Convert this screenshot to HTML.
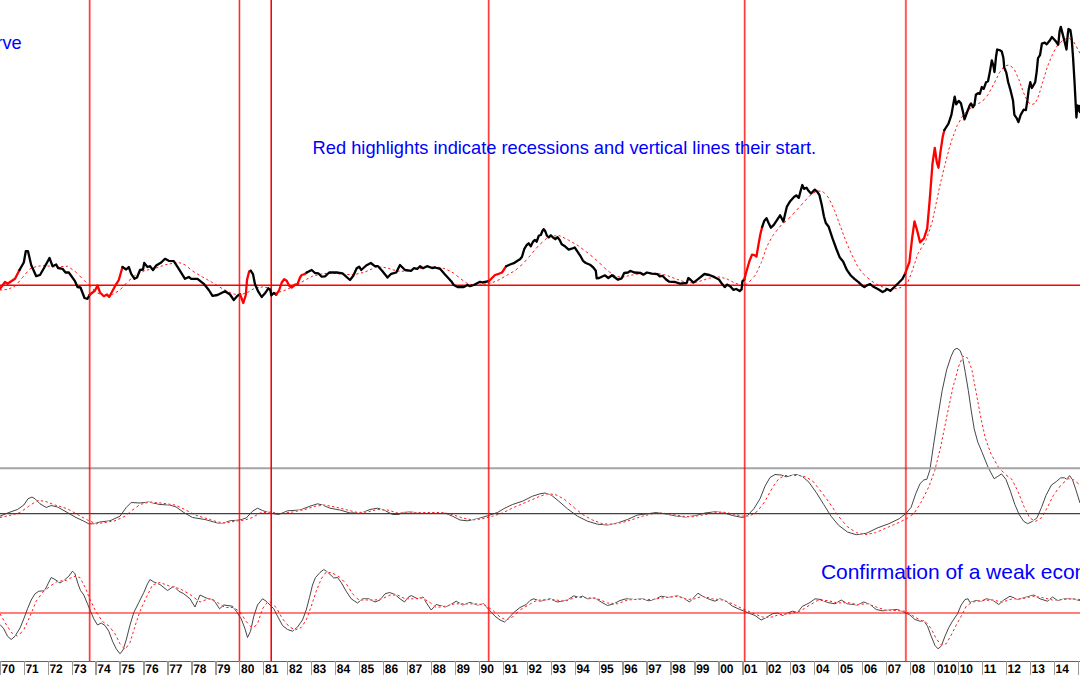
<!DOCTYPE html>
<html><head><meta charset="utf-8"><title>chart</title>
<style>
html,body{margin:0;padding:0;background:#fff;}
body{width:1080px;height:675px;overflow:hidden;position:relative;font-family:"Liberation Sans",sans-serif;}
svg{position:absolute;left:0;top:0;}
.t{position:absolute;color:#0000ff;white-space:nowrap;line-height:1;}
.yl{text-rendering:geometricPrecision;position:absolute;top:662.5px;font-size:12px;font-weight:bold;color:#000;line-height:1;white-space:nowrap;transform:scaleY(1.04);transform-origin:0 0;}
</style></head><body>
<svg width="1080" height="675" viewBox="0 0 1080 675">
<polyline points="0.0,516.2 7.5,513.0 17.5,509.5 23.8,505.0 28.0,498.8 32.0,497.0 35.0,498.8 40.0,503.8 46.2,507.5 51.2,505.5 57.5,507.0 65.0,511.2 75.0,517.0 83.8,521.2 88.8,523.8 93.8,523.8 100.0,522.0 110.0,520.8 120.0,516.2 126.2,507.5 131.2,502.5 140.0,503.0 148.8,502.0 160.0,504.5 170.0,505.0 176.2,507.0 183.8,512.5 192.5,517.5 205.0,519.5 217.5,523.0 223.8,523.0 230.0,520.8 240.0,520.0 246.2,518.0 252.5,511.2 257.5,508.2 262.5,510.5 270.0,513.0 278.8,514.5 287.5,510.8 300.0,510.0 310.0,506.2 317.5,503.8 322.5,505.0 330.0,508.2 340.0,510.0 350.0,513.0 362.5,512.5 370.0,509.5 377.5,508.2 385.0,510.5 392.5,514.5 398.8,514.5 402.5,512.5 410.0,512.0 420.0,513.0 432.5,512.5 445.0,513.0 452.5,516.2 460.0,520.0 467.5,520.8 477.5,518.8 487.5,515.8 497.5,512.5 505.0,508.0 512.5,504.5 522.5,501.2 532.5,496.2 540.0,493.8 545.0,493.0 551.2,495.0 558.8,501.2 567.5,508.8 577.5,516.2 587.5,521.2 597.5,524.2 607.5,525.0 617.5,523.0 627.5,519.5 637.5,515.0 647.5,513.8 656.2,512.5 665.0,513.8 675.0,515.8 685.0,517.0 695.0,515.8 705.0,513.0 715.0,511.8 722.5,512.5 732.5,515.5 742.5,517.5 747.5,515.5 753.8,508.8 760.0,498.8 765.0,486.2 770.0,477.5 775.0,474.5 781.2,475.0 786.2,476.8 791.2,475.5 796.2,474.5 802.5,476.5 808.9,482.2 816.3,492.6 823.7,504.4 831.1,516.3 838.5,525.2 847.4,532.0 856.3,534.7 866.7,533.2 877.0,528.1 888.9,523.7 899.3,518.7 906.1,513.3 911.1,507.4 915.6,494.1 920.0,483.7 923.9,479.9 926.8,479.3 929.8,470.4 933.3,446.7 937.8,417.0 942.2,390.4 946.7,369.6 951.1,356.3 954.1,349.8 957.0,348.3 960.0,350.4 962.4,356.3 965.3,372.6 968.3,390.4 971.3,411.1 974.2,428.9 977.8,442.2 982.2,452.6 988.1,467.4 994.1,478.7 997.9,476.3 1001.5,473.9 1005.9,479.3 1010.4,491.1 1014.8,504.4 1019.3,514.8 1023.7,521.3 1027.6,523.7 1032.6,521.3 1037.0,517.8 1041.5,507.4 1045.9,495.6 1051.3,485.2 1056.3,481.6 1060.7,477.8 1064.6,477.8 1066.7,479.3 1069.6,475.6 1072.6,480.0 1075.6,488.9 1080.0,503.0" fill="none" stroke="#3c3c3c" stroke-width="0.95" stroke-linejoin="round"/>
<polyline points="0.0,624.5 3.8,628.8 7.5,636.2 11.2,639.5 15.0,636.2 20.0,628.0 23.8,618.8 27.5,608.8 31.2,600.0 35.0,593.8 38.8,591.2 44.5,590.8 48.0,583.8 51.2,577.5 55.0,579.5 60.0,583.0 64.5,580.0 68.8,576.2 72.5,571.2 75.0,573.8 78.0,583.8 80.5,590.5 83.8,595.0 87.5,603.8 90.5,611.2 93.8,618.8 97.5,625.0 101.2,623.0 105.0,625.5 108.8,631.2 112.5,641.2 116.2,648.8 120.0,653.8 123.0,650.0 126.2,640.0 130.0,625.0 133.8,612.5 138.8,602.5 143.8,592.5 147.5,583.8 150.0,579.5 153.8,582.0 160.0,584.5 167.5,590.5 173.8,586.2 178.8,591.2 183.8,593.8 190.0,598.8 195.0,607.0 200.0,595.0 206.2,598.0 213.8,600.0 219.5,608.8 223.8,605.0 232.5,606.2 236.2,611.2 241.2,618.8 245.0,628.8 247.5,637.5 250.5,631.2 253.8,616.2 257.5,605.0 262.5,598.8 266.2,601.2 270.0,605.0 273.8,608.8 277.5,616.2 282.5,625.5 287.5,629.5 292.5,631.2 297.5,627.0 302.5,620.0 306.2,610.0 309.5,597.5 312.5,585.0 315.5,577.5 320.0,572.5 323.8,569.5 327.5,572.0 333.8,578.0 337.5,577.5 341.2,582.5 346.2,591.2 351.2,598.8 357.5,603.0 362.5,598.8 368.8,598.8 375.0,602.0 380.0,600.0 385.0,593.8 389.5,592.5 395.0,594.5 400.0,598.8 404.5,602.0 408.0,597.5 411.2,595.5 417.5,598.8 423.0,597.0 426.2,602.5 431.2,610.0 436.2,604.5 445.0,607.0 450.0,605.0 456.2,601.2 462.5,605.0 470.0,602.5 477.5,605.0 483.8,603.8 488.8,609.5 495.0,616.2 500.0,620.0 504.5,622.0 508.8,618.0 513.8,612.5 520.0,607.5 526.2,604.5 530.0,600.5 533.8,598.8 540.0,601.2 550.0,598.8 557.5,602.0 567.5,600.0 573.8,595.8 578.8,597.5 582.5,596.2 587.5,598.8 595.0,598.0 601.2,602.0 607.5,605.5 613.8,603.8 620.0,600.5 626.2,598.8 635.0,599.5 642.5,598.8 648.8,600.8 656.2,598.8 661.2,596.2 667.5,597.5 677.5,595.8 683.8,598.2 689.5,602.0 693.8,597.5 698.0,593.2 702.5,596.2 710.0,599.5 715.0,601.2 720.0,598.8 726.2,601.2 732.5,606.2 740.0,609.5 747.5,612.5 755.0,615.5 761.2,620.0 766.2,617.5 772.5,613.8 777.5,613.0 782.5,615.5 787.5,613.0 792.5,611.2 797.5,612.5 802.5,606.2 806.2,604.5 810.0,602.5 815.0,598.8 821.2,599.5 827.5,602.5 835.0,603.8 841.2,600.0 847.5,603.8 857.5,605.0 863.8,602.0 870.0,604.5 876.2,609.5 882.5,610.8 890.0,610.0 897.5,609.5 903.8,612.0 910.0,615.0 915.0,619.5 920.0,621.2 923.8,620.8 927.5,626.2 931.2,636.2 935.0,645.5 938.0,648.8 941.2,646.2 945.0,636.2 948.8,627.5 952.5,621.2 957.5,613.8 961.2,605.0 965.0,599.5 968.0,598.8 970.0,602.5 976.2,600.5 981.2,601.2 986.2,598.8 992.5,600.0 998.8,604.5 1003.8,600.0 1010.0,596.2 1017.5,599.5 1025.0,597.5 1033.8,595.0 1040.0,598.8 1047.5,601.2 1052.5,597.0 1057.5,600.5 1065.0,598.8 1072.5,598.8 1080.0,600.5" fill="none" stroke="#3c3c3c" stroke-width="0.95" stroke-linejoin="round"/>
<polyline points="0.0,517.5 10.0,515.5 20.0,512.5 28.8,506.2 37.5,500.5 45.0,501.2 55.0,505.0 67.5,508.8 77.5,514.5 87.5,520.0 96.2,523.8 105.0,522.5 115.0,520.8 125.0,516.2 132.5,510.0 140.0,504.5 150.0,502.0 162.5,503.2 175.0,505.0 185.0,509.5 195.0,515.0 207.5,518.8 217.5,522.0 225.0,523.0 235.0,521.2 245.0,520.0 252.5,517.5 260.0,513.0 270.0,512.0 280.0,513.8 292.5,512.0 305.0,509.5 315.0,506.2 325.0,505.0 335.0,507.0 347.5,510.0 357.5,512.5 367.5,512.0 377.5,509.5 387.5,510.0 397.5,513.0 410.0,513.0 425.0,512.5 442.5,512.5 452.5,514.5 462.5,518.0 472.5,520.0 482.5,518.8 492.5,516.2 502.5,513.0 512.5,508.0 522.5,503.8 532.5,499.5 540.0,496.2 547.5,493.8 555.0,494.5 563.8,498.8 572.5,506.2 582.5,514.5 592.5,520.0 602.5,523.8 612.5,524.2 622.5,522.5 632.5,519.5 642.5,516.2 652.5,513.8 662.5,513.0 672.5,514.5 682.5,516.2 692.5,516.8 702.5,515.0 712.5,513.0 722.5,512.0 732.5,513.8 742.5,516.2 750.0,515.8 757.5,511.2 765.0,501.2 772.5,487.5 778.8,478.8 785.0,475.5 792.5,475.5 800.0,475.5 805.9,476.9 813.3,481.6 820.7,491.1 829.6,503.0 838.5,516.3 847.4,526.7 856.3,532.6 865.2,534.7 875.6,532.6 885.9,528.1 896.3,523.7 906.7,518.7 914.1,513.3 921.5,501.5 928.9,486.7 934.8,470.4 940.7,446.7 946.7,417.0 952.6,388.9 958.5,366.7 963.0,356.3 967.4,357.8 971.9,369.6 976.3,393.3 980.7,417.0 985.2,437.8 991.1,454.1 998.5,467.4 1005.9,474.8 1011.9,479.3 1017.8,491.1 1023.7,505.9 1029.6,517.8 1035.6,521.3 1041.5,517.8 1047.4,507.4 1053.3,495.6 1060.7,485.2 1068.1,478.7 1074.1,479.9 1080.0,485.2" fill="none" stroke="#ffffff" stroke-width="1.0" stroke-linejoin="round"/>
<polyline points="0.0,613.8 5.0,622.5 11.2,632.5 17.5,636.2 23.8,630.0 30.0,616.2 36.2,601.2 42.5,592.5 50.0,586.2 57.5,581.2 66.2,580.5 73.8,576.2 80.0,577.5 85.0,587.0 90.0,599.5 96.2,612.0 102.5,621.5 108.8,625.8 115.0,633.8 120.0,643.8 125.0,649.5 130.0,642.5 135.0,626.2 140.0,611.2 146.2,597.5 152.5,585.0 160.0,582.5 170.0,586.2 180.0,588.8 190.0,594.5 200.0,602.0 208.8,598.8 217.5,602.5 225.0,607.5 233.8,607.5 240.0,612.0 246.2,621.5 252.5,628.5 257.5,623.8 262.5,608.8 267.5,602.0 270.0,602.0 276.2,607.5 282.5,618.8 288.8,626.2 295.0,630.0 301.2,627.5 306.2,620.0 311.2,606.2 316.2,591.2 321.2,578.8 326.2,572.0 332.5,573.0 340.0,577.5 346.2,583.8 352.5,593.8 358.8,600.0 366.2,600.0 375.0,600.0 382.5,598.8 390.0,595.0 397.5,595.0 405.0,598.8 413.8,598.8 422.5,598.0 430.0,602.5 436.2,607.5 445.0,606.2 455.0,603.8 465.0,603.8 475.0,603.8 485.0,605.0 492.5,610.0 500.0,617.0 506.2,620.0 512.5,617.0 520.0,610.0 527.5,605.5 535.0,601.2 540.0,600.0 552.5,599.5 565.0,601.2 575.0,597.5 585.0,597.5 597.5,598.8 607.5,603.0 617.5,603.8 627.5,600.0 640.0,599.2 652.5,599.5 665.0,597.5 677.5,596.2 687.5,599.5 695.0,598.8 702.5,596.2 712.5,598.8 722.5,600.0 732.5,603.8 742.5,608.8 752.5,613.0 762.5,617.0 770.0,617.5 780.0,614.5 790.0,613.8 800.0,611.2 810.0,605.0 817.5,600.5 827.5,600.5 837.5,603.0 847.5,602.5 857.5,604.5 867.5,603.8 876.2,607.0 885.0,610.0 895.0,610.5 905.0,611.2 912.5,615.5 920.0,620.0 926.2,622.5 931.2,628.8 936.2,638.8 941.2,645.0 946.2,643.8 951.2,635.0 956.2,625.0 961.2,616.2 966.2,606.2 972.5,602.0 982.5,600.5 992.5,600.0 1002.5,602.0 1012.5,598.8 1022.5,598.8 1032.5,596.2 1042.5,597.5 1052.5,600.0 1062.5,599.5 1072.5,598.8 1080.0,599.5" fill="none" stroke="#ffffff" stroke-width="1.0" stroke-linejoin="round"/>
<path d="M0.0,290.0 L2.2,289.9 M4.5,289.7 L6.8,289.5 M9.1,288.8 L11.3,287.8 M13.6,286.8 L15.0,286.2 L15.8,285.4 M17.7,283.1 L19.7,280.8 M21.6,278.5 L22.5,277.5 L23.6,276.2 M25.5,273.9 L27.5,271.7 M29.4,269.4 L30.0,268.8 L31.6,268.2 M33.9,267.4 L36.1,266.7 M38.4,266.2 L40.7,265.9 M43.0,265.7 L45.0,265.5 L45.2,265.5 M47.5,265.9 L49.8,266.2 M52.1,266.6 L54.3,266.9 M56.6,266.9 L58.9,266.8 M61.2,266.6 L63.4,266.5 M65.8,266.4 L67.5,266.2 L68.0,266.6 M70.3,268.1 L72.5,269.6 M74.8,271.1 L75.0,271.2 L77.1,273.4 M79.4,275.6 L81.6,277.9 M84.0,280.2 L86.2,282.4 M88.5,284.8 L90.0,286.2 L90.8,286.9 M93.0,289.0 L95.3,291.0 M97.6,293.0 L99.8,294.0 M102.1,295.0 L104.4,296.0 M106.7,295.9 L108.9,295.3 M111.2,294.8 L112.5,294.5 L113.5,293.9 M115.8,292.5 L118.0,291.2 M120.3,289.6 L122.4,287.4 M124.5,285.1 L126.6,282.9 M128.8,280.7 L131.1,278.8 M133.4,276.9 L135.0,275.5 L135.6,275.2 M137.9,274.0 L140.2,272.9 M142.5,271.8 L144.7,270.6 M147.0,270.1 L149.3,269.6 M151.6,269.2 L153.8,268.7 M156.1,268.1 L158.4,267.2 M160.7,266.4 L162.9,265.6 M165.2,264.8 L167.5,264.4 M169.8,263.9 L172.0,263.5 M174.3,263.1 L175.0,263.0 L176.6,262.9 M178.9,262.8 L180.0,262.8 L181.1,263.3 M183.4,264.2 L185.0,264.8 L185.7,265.4 M188.0,267.3 L190.2,269.1 M192.5,271.0 L194.8,272.4 M197.1,273.8 L199.3,275.1 M201.6,276.5 L202.5,277.0 L203.9,277.8 M206.2,279.0 L208.4,280.3 M210.7,281.5 L212.5,282.5 L213.0,282.8 M215.3,284.2 L217.5,285.7 M219.8,287.1 L222.1,288.5 M224.4,289.7 L226.6,290.8 M228.9,292.0 L231.2,293.1 M233.5,293.9 L235.7,294.3 M238.0,294.7 L240.0,295.0 L240.3,294.9 M242.6,294.1 L244.8,293.4 M247.1,292.6 L247.5,292.5 L249.4,291.4 M251.7,290.0 L253.9,288.6 M256.2,287.8 L258.5,287.5 M260.8,287.2 L262.5,287.0 L263.0,287.1 M265.3,287.4 L267.6,287.7 M269.9,288.0 L270.0,288.0 L272.1,290.1 M274.4,292.4 L275.0,293.0 L276.7,292.6 M279.0,292.1 L281.2,291.5 M283.5,290.8 L285.8,289.8 M288.1,288.8 L290.0,288.0 L290.3,287.9 M292.6,286.9 L294.9,286.0 M297.2,285.1 L297.5,285.0 L299.4,283.7 M301.7,282.2 L304.0,280.7 M306.3,279.4 L308.5,278.2 M310.8,277.1 L312.5,276.2 L313.1,276.1 M315.4,275.5 L317.6,275.0 M319.9,274.4 L322.2,273.8 M324.5,273.6 L326.7,273.4 M329.0,273.3 L331.3,273.1 M333.6,273.1 L335.8,273.4 M338.1,273.7 L340.4,273.9 M342.7,274.2 L344.9,274.5 M347.2,274.5 L349.5,274.5 M351.8,274.5 L354.0,274.5 M356.3,274.2 L358.6,273.6 M360.9,273.0 L363.1,272.5 M365.4,271.8 L367.7,270.8 M370.0,269.8 L372.2,268.7 M374.5,267.7 L375.0,267.5 L376.8,267.4 M379.1,267.2 L381.3,267.1 M383.6,267.3 L385.9,267.8 M388.2,268.3 L390.0,268.8 L390.4,268.9 M392.7,269.7 L395.0,270.4 M397.3,271.2 L397.5,271.2 L399.5,271.2 M401.8,271.2 L404.1,271.2 M406.4,271.0 L408.6,270.6 M410.9,270.2 L413.2,269.8 M415.5,269.4 L417.7,268.9 M420.0,268.5 L422.3,268.0 M424.6,267.6 L425.0,267.5 L426.8,267.4 M429.1,267.3 L431.4,267.2 M433.7,267.2 L435.9,267.1 M438.2,267.2 L440.5,267.7 M442.8,268.2 L445.0,268.8 L445.0,268.8 M447.3,269.9 L449.6,271.0 M451.9,272.2 L453.5,273.0 L454.1,273.5 M456.4,275.4 L458.7,277.2 M461.0,279.0 L461.0,279.0 L463.2,280.6 M465.5,282.2 L467.8,283.9 M470.1,284.3 L472.3,284.5 M474.6,284.8 L476.9,285.1 M479.2,285.0 L481.4,284.7 M483.7,284.4 L485.0,284.2 L486.0,284.0 M488.3,283.5 L490.5,283.0 M492.8,282.4 L495.1,281.5 M497.4,280.4 L499.6,279.5 M501.9,278.2 L504.2,276.8 M506.5,275.5 L507.5,274.9 L508.7,274.2 M511.0,272.9 L513.3,271.6 M515.6,270.1 L517.8,268.2 M520.1,266.2 L522.4,264.3 M524.5,262.0 L526.5,259.8 M528.5,257.4 L530.0,255.8 L530.5,255.2 M532.4,252.9 L534.3,250.7 M536.2,248.4 L538.1,246.1 M540.3,244.0 L542.5,242.0 M544.8,240.0 L546.7,238.3 L547.1,238.1 M549.4,237.3 L551.6,236.4 M553.9,235.8 L556.2,235.8 M558.5,235.8 L560.0,235.8 L560.7,236.2 M563.0,237.3 L565.3,238.5 M567.6,239.6 L568.3,240.0 L569.8,240.9 M572.1,242.2 L574.4,243.5 M576.7,244.9 L578.3,245.8 L578.9,246.3 M581.2,248.0 L583.5,249.7 M585.8,251.4 L588.0,253.1 M590.3,255.0 L592.6,256.9 M594.9,258.8 L597.1,260.7 M599.4,262.8 L601.7,265.1 M604.0,267.3 L606.2,269.6 M608.5,271.3 L610.8,272.9 M613.1,274.5 L615.0,275.8 L615.3,275.9 M617.6,276.5 L619.9,277.0 M622.2,277.4 L624.4,276.8 M626.7,276.2 L628.3,275.8 L629.0,275.7 M631.3,275.2 L633.5,274.8 M635.8,274.4 L636.7,274.2 L638.1,274.1 M640.4,273.9 L642.6,273.7 M644.9,273.5 L646.7,273.3 L647.2,273.3 M649.5,273.3 L651.7,273.3 M654.0,273.3 L656.3,273.3 M658.6,273.7 L660.8,274.1 M663.1,274.6 L665.4,275.0 M667.7,275.7 L669.9,276.6 M672.2,277.5 L674.5,278.3 M676.8,279.2 L679.0,280.0 M681.3,280.8 L683.6,281.5 M685.9,282.1 L688.1,282.4 M690.4,282.7 L692.7,282.9 M695.0,282.5 L697.2,281.9 M699.5,281.3 L699.6,281.3 L701.8,280.6 M704.1,279.9 L706.3,279.1 M708.6,278.4 L709.3,278.2 L710.9,278.0 M713.2,277.7 L715.4,277.4 M717.7,277.1 L718.9,276.9 L720.0,277.2 M722.3,277.7 L724.5,278.3 M726.8,278.9 L729.1,280.1 M731.4,281.2 L733.6,282.4 M735.9,283.3 L738.2,284.2 M740.5,285.0 L742.0,285.6 L742.7,285.3 M745.0,284.5 L747.3,283.8 M749.4,281.8 L751.4,279.6 M753.5,277.2 L755.5,275.0 M756.6,272.7 L757.6,270.5 M758.7,268.2 L759.7,265.9 M760.8,263.6 L761.3,262.5 L761.7,261.4 M762.5,259.1 L763.3,256.8 M764.1,254.5 L764.9,252.2 M765.7,250.0 L766.4,247.7 M767.4,245.4 L768.6,243.2 M769.9,240.9 L771.1,238.6 M772.4,236.3 L772.8,235.5 L774.0,234.1 M775.8,231.8 L777.6,229.5 M779.5,227.2 L780.5,225.9 L781.4,225.0 M783.7,223.0 L786.0,221.0 M788.3,218.9 L790.2,217.2 L790.5,216.9 M792.6,214.6 L794.6,212.3 M796.7,210.0 L798.8,207.8 M800.8,205.5 L802.9,203.2 M805.0,200.9 L807.0,198.7 M809.1,196.4 L809.4,196.0 L811.3,194.7 M813.6,193.2 L815.8,191.6 M818.1,190.9 L820.4,191.3 M822.7,191.6 L822.9,191.6 L824.8,193.6 M826.9,195.9 L828.7,197.9 L828.8,198.2 M829.9,200.5 L831.0,202.7 M832.0,205.0 L833.1,207.3 M834.1,209.6 L834.5,210.4 L835.0,211.8 M835.9,214.1 L836.7,216.4 M837.6,218.7 L838.4,220.9 M839.2,223.2 L840.1,225.5 M840.9,227.8 L841.8,230.0 M842.6,232.3 L843.5,234.6 M844.3,236.9 L845.2,239.1 M846.1,241.4 L847.0,243.7 M848.0,246.0 L849.0,248.2 M850.0,250.5 L851.0,252.8 M852.0,255.1 L853.1,257.3 M854.3,259.6 L855.4,261.9 M856.5,264.2 L857.6,266.3 L857.7,266.4 M859.4,268.7 L861.1,271.0 M862.9,273.3 L863.4,274.0 L864.9,275.4 M867.2,277.4 L869.5,279.4 M871.8,281.2 L874.0,282.6 M876.3,284.0 L878.6,285.4 M880.9,286.3 L883.1,287.2 M885.4,288.1 L887.7,288.9 M890.0,289.6 L892.2,289.2 M894.5,288.8 L896.8,288.3 M899.1,287.9 L901.0,287.5 L901.3,287.2 M903.6,285.3 L905.9,283.5 M908.1,281.6 L908.9,279.4 M909.8,277.1 L910.7,274.8 M911.6,272.5 L912.3,270.6 L912.4,270.2 M913.2,268.0 L913.9,265.7 M914.7,263.4 L915.4,261.2 M916.2,258.9 L916.9,256.6 M917.7,254.3 L917.9,253.7 L918.9,252.1 M920.3,249.8 L921.6,247.5 M923.0,245.2 L924.3,243.0 M925.7,240.6 L926.3,239.6 L926.7,238.4 M927.5,236.1 L928.2,233.9 M929.0,231.6 L929.8,229.3 M930.5,227.0 L931.3,224.8 M932.1,222.4 L932.5,220.2 M933.0,217.9 L933.5,215.7 M934.0,213.4 L934.5,211.1 M935.0,208.8 L935.4,206.6 M935.9,204.3 L936.2,203.0 L936.4,202.0 M936.9,199.7 L937.4,197.5 M937.9,195.2 L938.3,192.9 M938.8,190.6 L939.3,188.4 M939.8,186.1 L940.3,183.8 M940.8,181.5 L941.4,179.3 M942.0,176.9 L942.5,174.7 M943.1,172.4 L943.6,170.1 M944.2,167.8 L944.6,166.3 L944.8,165.6 M945.4,163.3 L945.9,161.1 M946.5,158.8 L947.1,156.5 M947.7,154.2 L948.3,151.9 M948.8,149.7 L948.9,149.4 L949.5,147.4 M950.2,145.1 L950.9,142.9 M951.6,140.6 L952.3,138.3 M953.2,136.0 L954.0,133.8 M954.9,131.5 L955.8,129.2 M956.7,126.9 L957.2,125.5 L957.7,124.7 M959.0,122.4 L960.2,120.1 M961.5,117.8 L962.0,116.9 L963.2,115.6 M965.1,113.3 L967.0,111.0 M969.2,109.2 L971.5,107.7 M973.8,106.2 L974.5,105.7 L976.0,104.9 M978.3,103.6 L980.5,102.4 M982.8,100.9 L984.7,98.6 M986.6,96.3 L988.0,94.7 L988.4,94.1 M989.6,91.7 L990.8,89.5 M992.1,87.2 L993.3,84.9 M994.5,82.6 L995.6,80.4 M996.8,78.1 L997.9,75.8 M999.0,73.6 L999.5,72.6 L1000.5,71.3 M1002.2,69.0 L1003.9,66.7 M1006.0,65.7 L1008.3,65.1 M1010.6,66.0 L1012.8,67.8 M1014.5,69.8 L1015.5,72.1 M1016.6,74.4 L1017.6,76.6 M1018.6,79.0 L1018.8,79.3 L1019.5,81.2 M1020.3,83.5 L1021.1,85.8 M1021.9,88.0 L1022.7,90.3 M1023.5,92.6 L1023.6,92.8 L1024.5,94.8 M1025.5,97.1 L1026.6,99.4 M1027.7,101.7 L1030.0,103.6 M1032.2,104.4 L1034.5,103.6 M1035.9,101.8 L1036.9,99.6 M1037.9,97.3 L1038.9,95.0 M1039.6,92.7 L1040.2,90.5 M1040.9,88.2 L1041.5,85.9 M1042.2,83.6 L1042.9,81.4 M1043.6,79.1 L1044.3,76.8 M1045.0,74.5 L1045.7,72.3 M1046.4,70.0 L1047.1,67.7 M1047.9,65.4 L1048.8,63.2 M1049.8,60.9 L1050.7,58.6 M1051.7,56.3 L1052.5,54.3 L1052.6,54.1 M1053.9,51.8 L1055.1,49.5 M1056.4,47.2 L1057.3,45.6 L1057.9,45.0 M1060.2,42.7 L1062.5,40.4 M1064.8,39.2 L1067.0,38.5 M1069.3,38.3 L1071.6,40.1 M1073.8,42.0 L1075.0,44.2 M1076.3,46.5 L1077.5,48.8 M1078.8,51.1 L1080.0,53.3" fill="none" stroke="#ff1c1c" stroke-width="1.0"/>
<path d="M0.0,517.5 L2.2,517.0 M4.5,516.6 L6.8,516.1 M9.1,515.7 L10.0,515.5 L11.3,515.1 M13.6,514.4 L15.9,513.7 M18.2,513.0 L20.0,512.5 L20.4,512.2 M22.8,510.5 L25.0,508.9 M27.3,507.3 L28.8,506.2 L29.5,505.7 M31.8,504.2 L34.1,502.7 M36.4,501.2 L37.5,500.5 L38.6,500.6 M40.9,500.8 L43.2,501.1 M45.5,501.4 L47.8,502.3 M50.0,503.1 L52.3,504.0 M54.6,504.9 L55.0,505.0 L56.8,505.6 M59.1,506.2 L61.4,506.9 M63.7,507.6 L65.9,508.3 M68.2,509.2 L70.5,510.5 M72.8,511.8 L75.0,513.1 M77.3,514.4 L77.5,514.5 L79.6,515.7 M81.9,516.9 L84.1,518.2 M86.5,519.4 L87.5,520.0 L88.7,520.5 M91.0,521.5 L93.2,522.5 M95.5,523.5 L96.2,523.8 L97.8,523.5 M100.1,523.2 L102.3,522.9 M104.6,522.5 L105.0,522.5 L106.9,522.2 M109.2,521.8 L111.4,521.4 M113.8,521.0 L115.0,520.8 L116.0,520.3 M118.3,519.3 L120.5,518.3 M122.8,517.2 L125.0,516.2 L125.1,516.2 M127.4,514.2 L129.6,512.4 M131.9,510.5 L132.5,510.0 L134.2,508.8 M136.5,507.1 L138.8,505.4 M141.0,504.2 L143.3,503.7 M145.6,503.1 L147.8,502.5 M150.2,502.0 L152.4,502.2 M154.7,502.5 L156.9,502.7 M159.2,502.9 L161.5,503.1 M163.8,503.4 L166.0,503.7 M168.3,504.1 L170.6,504.4 M172.9,504.7 L175.0,505.0 L175.2,505.1 M177.4,506.1 L179.7,507.1 M182.0,508.1 L184.2,509.2 M186.5,510.4 L188.8,511.6 M191.1,512.9 L193.3,514.1 M195.7,515.2 L197.9,515.9 M200.2,516.6 L202.4,517.2 M204.8,517.9 L207.0,518.6 M209.3,519.3 L211.5,520.1 M213.8,520.8 L216.1,521.5 M218.4,522.1 L220.6,522.4 M222.9,522.7 L225.0,523.0 L225.2,523.0 M227.5,522.6 L229.8,522.2 M232.0,521.8 L234.3,521.4 M236.6,521.0 L238.8,520.8 M241.1,520.5 L243.4,520.2 M245.7,519.8 L247.9,519.0 M250.2,518.2 L252.5,517.5 M254.8,516.1 L257.0,514.8 M259.3,513.4 L260.0,513.0 L261.6,512.8 M263.9,512.6 L266.1,512.4 M268.4,512.2 L270.0,512.0 L270.7,512.1 M273.0,512.5 L275.2,512.9 M277.6,513.3 L279.8,513.7 M282.1,513.5 L284.3,513.1 M286.6,512.8 L288.9,512.5 M291.2,512.2 L292.5,512.0 L293.4,511.8 M295.8,511.4 L298.0,510.9 M300.3,510.4 L302.6,510.0 M304.8,509.5 L305.0,509.5 L307.1,508.8 M309.4,508.1 L311.6,507.3 M313.9,506.6 L315.0,506.2 L316.2,506.1 M318.5,505.8 L320.8,505.5 M323.1,505.2 L325.0,505.0 L325.3,505.1 M327.6,505.5 L329.8,506.0 M332.1,506.4 L334.4,506.9 M336.7,507.4 L338.9,507.9 M341.2,508.5 L343.5,509.0 M345.8,509.6 L347.5,510.0 L348.1,510.1 M350.3,510.7 L352.6,511.3 M354.9,511.9 L357.1,512.4 M359.4,512.4 L361.7,512.3 M364.0,512.2 L366.2,512.1 M368.6,511.7 L370.8,511.2 M373.1,510.6 L375.3,510.0 M377.6,509.5 L379.9,509.6 M382.2,509.7 L384.4,509.8 M386.8,510.0 L387.5,510.0 L389.0,510.4 M391.3,511.1 L393.6,511.8 M395.8,512.5 L397.5,513.0 L398.1,513.0 M400.4,513.0 L402.6,513.0 M404.9,513.0 L407.2,513.0 M409.5,513.0 L410.0,513.0 L411.8,512.9 M414.1,512.9 L416.3,512.8 M418.6,512.7 L420.8,512.6 M423.1,512.6 L425.0,512.5 L425.4,512.5 M427.7,512.5 L429.9,512.5 M432.2,512.5 L434.5,512.5 M436.8,512.5 L439.0,512.5 M441.3,512.5 L442.5,512.5 L443.6,512.7 M445.9,513.2 L448.1,513.6 M450.4,514.1 L452.5,514.5 L452.7,514.6 M455.0,515.4 L457.2,516.2 M459.5,517.0 L461.8,517.8 M464.1,518.3 L466.3,518.8 M468.6,519.2 L470.9,519.7 M473.2,519.9 L475.4,519.6 M477.8,519.3 L480.0,519.1 M482.3,518.8 L482.5,518.8 L484.5,518.2 M486.8,517.7 L489.1,517.1 M491.4,516.5 L492.5,516.2 L493.6,515.9 M495.9,515.1 L498.2,514.4 M500.5,513.6 L502.5,513.0 L502.8,512.9 M505.0,511.7 L507.3,510.6 M509.6,509.5 L511.8,508.3 M514.1,507.3 L516.4,506.3 M518.7,505.4 L520.9,504.4 M523.2,503.4 L525.5,502.5 M527.8,501.5 L530.0,500.5 M532.4,499.6 L532.5,499.5 L534.6,498.6 M536.9,497.6 L539.1,496.6 M541.4,495.8 L543.7,495.0 M546.0,494.2 L547.5,493.8 L548.2,493.8 M550.5,494.1 L552.8,494.3 M555.1,494.5 L557.4,495.6 M559.6,496.8 L561.9,497.9 M564.2,499.1 L566.4,501.1 M568.8,503.0 L571.0,505.0 M573.3,506.9 L575.5,508.8 M577.9,510.7 L580.1,512.5 M582.4,514.4 L582.5,514.5 L584.6,515.7 M586.9,516.9 L589.2,518.2 M591.5,519.5 L592.5,520.0 L593.8,520.5 M596.0,521.3 L598.3,522.2 M600.6,523.0 L602.5,523.8 L602.9,523.8 M605.1,523.9 L607.4,524.0 M609.7,524.1 L611.9,524.2 M614.2,523.9 L616.5,523.5 M618.8,523.1 L621.0,522.8 M623.4,522.2 L625.6,521.6 M627.9,520.9 L630.1,520.2 M632.4,519.5 L632.5,519.5 L634.7,518.8 M637.0,518.0 L639.2,517.3 M641.5,516.6 L642.5,516.2 L643.8,515.9 M646.1,515.4 L648.4,514.8 M650.6,514.2 L652.5,513.8 L652.9,513.7 M655.2,513.5 L657.4,513.4 M659.8,513.2 L662.0,513.0 M664.3,513.3 L666.5,513.6 M668.9,514.0 L671.1,514.3 M673.4,514.7 L675.6,515.1 M677.9,515.5 L680.2,515.8 M682.5,516.2 L684.8,516.4 M687.0,516.5 L689.3,516.6 M691.6,516.7 L692.5,516.8 L693.9,516.5 M696.1,516.1 L698.4,515.7 M700.7,515.3 L702.5,515.0 L702.9,514.9 M705.2,514.5 L707.5,514.0 M709.8,513.5 L712.0,513.1 M714.4,512.8 L716.6,512.6 M718.9,512.4 L721.1,512.1 M723.4,512.2 L725.7,512.6 M728.0,513.0 L730.2,513.4 M732.5,513.8 L734.8,514.3 M737.1,514.9 L739.4,515.5 M741.6,516.0 L742.5,516.2 L743.9,516.2 M746.2,516.0 L748.4,515.9 M750.8,515.3 L753.0,514.0 M755.3,512.6 L757.5,511.2 L757.5,511.2 M759.3,508.9 L761.0,506.6 M762.7,504.4 L764.4,502.1 M765.8,499.8 L767.0,497.6 M768.3,495.2 L769.5,493.0 M770.8,490.7 L772.0,488.5 M773.5,486.1 L775.1,483.9 M776.7,481.6 L778.3,479.4 M780.4,477.9 L782.7,476.7 M785.0,475.5 L787.2,475.5 M789.5,475.5 L791.8,475.5 M794.1,475.5 L796.4,475.5 M798.6,475.5 L800.0,475.5 L800.9,475.7 M803.2,476.3 L805.4,476.8 M807.8,478.1 L810.0,479.5 M812.3,481.0 L813.3,481.6 L814.3,482.9 M816.1,485.2 L817.8,487.4 M819.6,489.7 L820.7,491.1 L821.3,492.0 M823.1,494.2 L824.7,496.5 M826.5,498.8 L828.1,501.1 M829.8,503.4 L831.3,505.6 M832.9,507.9 L834.4,510.2 M835.9,512.5 L837.4,514.7 M839.1,517.0 L841.0,519.2 M843.0,521.6 L844.9,523.8 M846.9,526.1 L847.4,526.7 L849.0,527.8 M851.3,529.3 L853.6,530.8 M855.9,532.3 L856.3,532.6 L858.1,533.0 M860.4,533.6 L862.7,534.1 M865.0,534.7 L865.2,534.7 L867.2,534.3 M869.5,533.8 L871.8,533.4 M874.1,532.9 L875.6,532.6 L876.3,532.3 M878.6,531.3 L880.9,530.3 M883.2,529.3 L885.4,528.3 M887.8,527.3 L890.0,526.4 M892.3,525.4 L894.5,524.4 M896.8,523.4 L899.1,522.4 M901.4,521.2 L903.6,520.2 M905.9,519.1 L906.7,518.7 L908.2,517.6 M910.5,515.9 L912.8,514.3 M914.7,512.4 L916.1,510.1 M917.5,507.8 L919.0,505.6 M920.4,503.2 L921.5,501.5 L921.8,501.0 M922.9,498.7 L924.0,496.5 M925.2,494.1 L926.3,491.9 M927.4,489.6 L928.6,487.4 M929.5,485.1 L930.3,482.8 M931.1,480.5 L932.0,478.2 M932.8,476.0 L933.6,473.7 M934.4,471.4 L934.8,470.4 L935.1,469.1 M935.7,466.9 L936.2,464.6 M936.8,462.3 L937.4,460.1 M937.9,457.8 L938.5,455.5 M939.1,453.2 L939.6,451.0 M940.2,448.7 L940.7,446.7 L940.8,446.4 M941.2,444.1 L941.7,441.9 M942.1,439.6 L942.6,437.3 M943.1,435.0 L943.5,432.8 M944.0,430.5 L944.4,428.2 M944.9,425.9 L945.4,423.7 M945.8,421.4 L946.3,419.1 M946.7,416.8 L947.2,414.6 M947.7,412.3 L948.2,410.0 M948.7,407.7 L949.1,405.4 M949.6,403.2 L950.1,400.9 M950.6,398.6 L951.0,396.4 M951.5,394.1 L952.0,391.8 M952.5,389.5 L952.6,388.9 L953.0,387.3 M953.6,384.9 L954.2,382.7 M954.9,380.4 L955.5,378.1 M956.1,375.9 L956.7,373.6 M957.3,371.3 L957.9,369.1 M958.5,366.8 L958.5,366.7 L959.5,364.5 M960.4,362.2 L961.4,359.9 M962.4,357.6 L963.0,356.3 L963.9,356.6 M966.2,357.4 L967.4,357.8 L967.8,358.8 M968.7,361.1 L969.5,363.4 M970.4,365.7 L971.3,367.9 M972.0,370.3 L972.4,372.5 M972.9,374.8 L973.3,377.1 M973.7,379.4 L974.1,381.6 M974.6,383.9 L975.0,386.1 M975.4,388.4 L975.8,390.7 M976.2,393.0 L976.3,393.3 L976.7,395.3 M977.1,397.6 L977.5,399.8 M977.9,402.1 L978.4,404.3 M978.8,406.6 L979.2,408.9 M979.6,411.2 L980.0,413.4 M980.5,415.8 L980.7,417.0 L980.9,418.0 M981.4,420.3 L981.9,422.5 M982.4,424.8 L982.9,427.1 M983.4,429.4 L983.9,431.6 M984.4,433.9 L984.9,436.2 M985.5,438.5 L986.3,440.8 M987.1,443.1 L987.9,445.3 M988.7,447.6 L989.6,449.9 M990.4,452.1 L991.1,454.1 L991.3,454.4 M992.5,456.7 L993.8,458.9 M995.1,461.3 L996.3,463.5 M997.6,465.8 L998.5,467.4 L999.2,468.1 M1001.5,470.4 L1003.7,472.6 M1006.0,474.9 L1008.2,476.6 M1010.5,478.3 L1011.9,479.3 L1012.3,480.2 M1013.5,482.5 L1014.6,484.8 M1015.8,487.1 L1016.9,489.3 M1018.0,491.6 L1018.9,493.9 M1019.8,496.1 L1020.7,498.4 M1021.6,500.7 L1022.5,502.9 M1023.4,505.3 L1023.7,505.9 L1024.5,507.5 M1025.6,509.8 L1026.7,512.0 M1027.9,514.3 L1029.0,516.6 M1030.7,518.4 L1032.9,519.8 M1035.2,521.1 L1035.6,521.3 L1037.5,520.2 M1039.8,518.8 L1041.5,517.8 L1041.8,517.2 M1043.1,515.0 L1044.4,512.7 M1045.7,510.4 L1047.0,508.2 M1048.2,505.9 L1049.3,503.6 M1050.4,501.3 L1051.6,499.1 M1052.7,496.8 L1053.3,495.6 L1054.1,494.5 M1055.7,492.2 L1057.3,490.0 M1059.0,487.7 L1060.6,485.4 M1062.8,483.4 L1065.0,481.4 M1067.3,479.4 L1068.1,478.7 L1069.6,479.0 M1071.9,479.5 L1074.1,479.9 L1074.1,479.9 M1076.4,482.0 L1078.7,484.0" fill="none" stroke="#ff1c1c" stroke-width="1.0"/>
<path d="M0.0,613.8 L1.3,616.0 M2.6,618.3 L3.9,620.5 M5.2,622.9 L6.6,625.1 M8.1,627.4 L9.5,629.6 M10.9,632.0 L11.2,632.5 L12.9,633.5 M15.2,634.9 L17.5,636.2 M19.8,634.0 L22.0,631.7 M24.0,629.4 L25.0,627.1 M26.1,624.9 L27.1,622.6 M28.2,620.3 L29.2,618.0 M30.2,615.8 L31.1,613.5 M32.1,611.2 L33.0,609.0 M34.0,606.6 L34.9,604.4 M35.9,602.1 L36.2,601.2 L37.2,599.9 M38.9,597.5 L40.5,595.3 M42.1,593.0 L42.5,592.5 L44.2,591.0 M46.5,589.1 L48.8,587.2 M51.1,585.5 L53.3,584.0 M55.6,582.5 L57.5,581.2 L57.9,581.2 M60.2,581.0 L62.5,580.8 M64.8,580.6 L66.2,580.5 L67.0,580.1 M69.3,578.8 L71.5,577.5 M73.8,576.3 L76.1,576.7 M78.4,577.2 L80.0,577.5 L80.3,578.1 M81.6,580.5 L82.7,582.7 M83.9,585.0 L85.0,587.0 L85.1,587.2 M86.0,589.5 L86.9,591.8 M87.8,594.1 L88.7,596.4 M89.7,598.6 L90.0,599.5 L90.7,600.9 M91.8,603.2 L93.0,605.5 M94.1,607.8 L95.2,610.0 M96.4,612.3 L97.9,614.5 M99.4,616.9 L100.9,619.1 M102.4,621.4 L102.5,621.5 L104.7,623.0 M106.9,624.6 L108.8,625.8 L109.1,626.2 M110.9,628.5 L112.7,630.8 M114.5,633.1 L115.0,633.8 L115.8,635.3 M116.9,637.6 L118.1,639.9 M119.2,642.2 L120.0,643.8 L120.6,644.4 M122.6,646.8 L124.6,649.0 M126.3,647.7 L127.9,645.5 M129.5,643.2 L130.0,642.5 L130.5,640.9 M131.2,638.6 L131.9,636.4 M132.6,634.1 L133.3,631.8 M134.0,629.5 L134.7,627.2 M135.4,625.0 L136.2,622.7 M136.9,620.4 L137.7,618.2 M138.5,615.9 L139.2,613.6 M140.0,611.3 L140.0,611.2 L141.0,609.1 M142.0,606.8 L143.1,604.5 M144.1,602.2 L145.1,600.0 M146.2,597.7 L146.2,597.5 L147.3,595.4 M148.4,593.1 L149.6,590.9 M150.7,588.6 L151.8,586.3 M153.5,584.7 L155.7,583.9 M158.0,583.1 L160.0,582.5 L160.3,582.6 M162.6,583.5 L164.8,584.3 M167.1,585.2 L169.4,586.0 M171.7,586.7 L173.9,587.2 M176.2,587.8 L178.5,588.4 M180.8,589.2 L183.0,590.5 M185.3,591.8 L187.6,593.1 M189.9,594.4 L190.0,594.5 L192.1,596.1 M194.4,597.8 L196.7,599.5 M199.0,601.2 L200.0,602.0 L201.2,601.5 M203.5,600.7 L205.8,599.8 M208.1,599.0 L208.8,598.8 L210.3,599.4 M212.6,600.4 L214.9,601.4 M217.2,602.4 L217.5,602.5 L219.4,603.8 M221.7,605.3 L224.0,606.8 M226.3,607.5 L228.5,607.5 M230.8,607.5 L233.1,607.5 M235.4,608.7 L237.6,610.3 M239.9,612.0 L240.0,612.0 L241.4,614.2 M243.0,616.5 L244.4,618.8 M246.0,621.0 L246.2,621.5 L247.9,623.3 M249.9,625.6 L251.9,627.8 M254.1,626.9 L256.4,624.8 M257.9,622.6 L258.6,620.3 M259.4,618.0 L260.2,615.8 M260.9,613.5 L261.7,611.2 M262.4,608.9 L262.5,608.8 L264.1,606.7 M265.8,604.4 L267.4,602.1 M269.7,602.0 L270.0,602.0 L271.9,603.7 M274.2,605.7 L276.2,607.5 L276.4,607.7 M277.7,610.0 L278.9,612.3 M280.2,614.6 L281.4,616.8 M282.8,619.1 L284.7,621.4 M286.6,623.7 L288.5,625.9 M290.7,627.4 L293.0,628.8 M295.3,629.9 L297.5,629.0 M299.8,628.1 L301.2,627.5 L301.8,626.7 M303.3,624.4 L304.8,622.1 M306.3,619.8 L307.1,617.6 M308.0,615.2 L308.8,613.0 M309.6,610.7 L310.4,608.5 M311.3,606.2 L312.0,603.9 M312.8,601.6 L313.5,599.4 M314.3,597.1 L315.1,594.8 M315.8,592.5 L316.2,591.2 L316.6,590.2 M317.6,588.0 L318.5,585.7 M319.4,583.4 L320.3,581.2 M321.2,578.9 L321.2,578.8 L322.8,576.6 M324.5,574.3 L326.2,572.1 M328.5,572.4 L330.7,572.7 M333.0,573.3 L335.3,574.7 M337.6,576.1 L339.8,577.4 M342.1,579.6 L344.4,581.9 M346.5,584.2 L347.9,586.4 M349.4,588.8 L350.8,591.0 M352.2,593.3 L352.5,593.8 L354.3,595.5 M356.6,597.8 L358.8,600.0 L358.8,600.0 M361.1,600.0 L363.4,600.0 M365.7,600.0 L366.2,600.0 L367.9,600.0 M370.2,600.0 L372.5,600.0 M374.8,600.0 L375.0,600.0 L377.0,599.7 M379.3,599.3 L381.6,598.9 M383.9,598.0 L386.1,596.9 M388.4,595.8 L390.0,595.0 L390.7,595.0 M393.0,595.0 L395.2,595.0 M397.5,595.0 L399.8,596.1 M402.1,597.3 L404.3,598.4 M406.6,598.8 L408.9,598.8 M411.2,598.8 L413.4,598.8 M415.7,598.6 L418.0,598.4 M420.3,598.2 L422.5,598.0 L422.5,598.0 M424.8,599.4 L427.1,600.8 M429.4,602.1 L430.0,602.5 L431.6,603.8 M433.9,605.7 L436.2,607.5 M438.5,607.2 L440.7,606.9 M443.0,606.5 L445.0,606.2 L445.3,606.2 M447.6,605.6 L449.8,605.0 M452.1,604.5 L454.4,603.9 M456.7,603.8 L458.9,603.8 M461.2,603.8 L463.5,603.8 M465.8,603.8 L468.0,603.8 M470.3,603.8 L472.6,603.8 M474.9,603.8 L475.0,603.8 L477.1,604.0 M479.4,604.3 L481.7,604.6 M484.0,604.9 L485.0,605.0 L486.2,605.8 M488.5,607.4 L490.8,608.9 M493.1,610.6 L495.3,612.7 M497.6,614.8 L499.9,616.9 M502.2,618.1 L504.4,619.1 M506.7,619.8 L509.0,618.7 M511.3,617.6 L512.5,617.0 L513.5,616.0 M515.8,613.9 L518.1,611.8 M520.4,609.8 L522.6,608.4 M524.9,607.0 L527.2,605.7 M529.5,604.4 L531.7,603.1 M534.0,601.8 L535.0,601.2 L536.3,600.9 M538.6,600.4 L540.0,600.0 L540.8,600.0 M543.1,599.9 L545.4,599.8 M547.7,599.7 L549.9,599.6 M552.2,599.5 L552.5,599.5 L554.5,599.8 M556.8,600.1 L559.0,600.4 M561.3,600.7 L563.6,601.1 M565.9,600.9 L568.1,600.1 M570.4,599.2 L572.7,598.4 M575.0,597.5 L575.0,597.5 L577.2,597.5 M579.5,597.5 L581.8,597.5 M584.1,597.5 L585.0,597.5 L586.3,597.6 M588.6,597.9 L590.9,598.1 M593.2,598.3 L595.4,598.5 M597.7,598.9 L600.0,599.8 M602.3,600.8 L604.5,601.7 M606.8,602.7 L607.5,603.0 L609.1,603.1 M611.4,603.3 L613.6,603.5 M615.9,603.6 L617.5,603.8 L618.2,603.5 M620.5,602.6 L622.7,601.8 M625.0,600.9 L627.3,600.1 M629.6,599.9 L631.8,599.7 M634.1,599.6 L636.4,599.5 M638.7,599.3 L640.0,599.2 L640.9,599.3 M643.2,599.3 L645.5,599.4 M647.8,599.4 L650.0,599.5 M652.3,599.5 L652.5,599.5 L654.6,599.2 M656.9,598.8 L659.1,598.4 M661.4,598.1 L663.7,597.7 M666.0,597.4 L668.2,597.2 M670.5,596.9 L672.8,596.7 M675.1,596.5 L677.3,596.3 M679.6,596.9 L681.9,597.7 M684.2,598.4 L686.4,599.2 M688.7,599.4 L691.0,599.1 M693.3,598.9 L695.0,598.8 L695.5,598.6 M697.8,597.8 L700.1,597.1 M702.4,596.3 L702.5,596.2 L704.6,596.8 M706.9,597.4 L709.2,597.9 M711.5,598.5 L712.5,598.8 L713.7,598.9 M716.0,599.2 L718.3,599.5 M720.6,599.8 L722.5,600.0 L722.8,600.1 M725.1,601.0 L727.4,601.8 M729.7,602.7 L731.9,603.5 M734.2,604.6 L736.5,605.8 M738.8,606.9 L741.0,608.0 M743.3,609.1 L745.6,610.1 M747.9,611.0 L750.1,612.0 M752.4,613.0 L752.5,613.0 L754.7,613.9 M757.0,614.8 L759.2,615.7 M761.5,616.6 L762.5,617.0 L763.8,617.1 M766.1,617.2 L768.3,617.4 M770.6,617.3 L772.9,616.6 M775.2,615.9 L777.4,615.3 M779.7,614.6 L780.0,614.5 L782.0,614.4 M784.3,614.2 L786.5,614.0 M788.8,613.8 L790.0,613.8 L791.1,613.5 M793.4,612.9 L795.6,612.3 M797.9,611.8 L800.0,611.2 L800.2,611.1 M802.5,609.7 L804.7,608.3 M807.0,606.8 L809.3,605.4 M811.6,604.0 L813.8,602.7 M816.1,601.3 L817.5,600.5 L818.4,600.5 M820.7,600.5 L822.9,600.5 M825.2,600.5 L827.5,600.5 M829.8,601.1 L832.0,601.6 M834.3,602.2 L836.6,602.8 M838.9,602.9 L841.1,602.8 M843.4,602.7 L845.7,602.6 M848.0,602.6 L850.2,603.0 M852.5,603.5 L854.8,604.0 M857.1,604.4 L857.5,604.5 L859.3,604.4 M861.6,604.2 L863.9,604.0 M866.2,603.8 L867.5,603.8 L868.4,604.1 M870.7,605.0 L873.0,605.8 M875.3,606.6 L876.2,607.0 L877.5,607.4 M879.8,608.2 L882.1,609.0 M884.4,609.8 L885.0,610.0 L886.6,610.1 M888.9,610.2 L891.2,610.3 M893.5,610.4 L895.0,610.5 L895.8,610.6 M898.0,610.7 L900.3,610.9 M902.6,611.1 L904.8,611.2 M907.1,612.5 L909.4,613.7 M911.7,615.0 L912.5,615.5 L913.9,616.4 M916.2,617.8 L918.5,619.1 M920.8,620.3 L923.0,621.2 M925.3,622.1 L926.2,622.5 L927.3,623.8 M929.2,626.1 L931.0,628.4 M932.2,630.7 L933.3,632.9 M934.5,635.2 L935.6,637.5 M937.1,639.8 L938.9,642.0 M940.7,644.3 L941.2,645.0 L942.8,644.6 M945.1,644.0 L946.2,643.8 L946.9,642.6 M948.2,640.3 L949.5,638.1 M950.8,635.8 L951.2,635.0 L952.0,633.5 M953.1,631.2 L954.3,629.0 M955.4,626.7 L956.2,625.0 L956.6,624.4 M957.9,622.1 L959.2,619.9 M960.5,617.6 L961.2,616.2 L961.7,615.3 M962.9,613.0 L964.0,610.8 M965.1,608.5 L966.2,606.2 L966.3,606.2 M968.6,604.7 L970.8,603.1 M973.1,601.9 L975.4,601.6 M977.7,601.2 L979.9,600.9 M982.2,600.5 L982.5,600.5 L984.5,600.4 M986.8,600.3 L989.0,600.2 M991.3,600.1 L992.5,600.0 L993.6,600.2 M995.9,600.7 L998.1,601.1 M1000.4,601.6 L1002.5,602.0 L1002.7,601.9 M1005.0,601.2 L1007.2,600.5 M1009.5,599.7 L1011.8,599.0 M1014.1,598.8 L1016.3,598.8 M1018.6,598.8 L1020.9,598.8 M1023.2,598.6 L1025.4,598.0 M1027.8,597.4 L1030.0,596.9 M1032.3,596.3 L1032.5,596.2 L1034.5,596.5 M1036.8,596.8 L1039.1,597.1 M1041.4,597.4 L1042.5,597.5 L1043.6,597.8 M1045.9,598.4 L1048.2,598.9 M1050.5,599.5 L1052.5,600.0 L1052.8,600.0 M1055.0,599.9 L1057.3,599.8 M1059.6,599.6 L1061.8,599.5 M1064.1,599.4 L1066.4,599.2 M1068.7,599.0 L1070.9,598.9 M1073.2,598.8 L1075.5,599.0 M1077.8,599.3 L1080.0,599.5" fill="none" stroke="#ff1c1c" stroke-width="1.0"/>
<line x1="0" x2="1080" y1="468.35" y2="468.35" stroke="#a4a4a4" stroke-width="2.0"/>
<line x1="0" x2="1080" y1="513.62" y2="513.62" stroke="#404040" stroke-width="1.2"/>
<line x1="0" x2="1080" y1="285.2" y2="285.2" stroke="#ff0000" stroke-width="1.5"/>
<line x1="0" x2="1080" y1="613" y2="613" stroke="#ff0000" stroke-width="1.15"/>
<line x1="89.7" x2="89.7" y1="0" y2="661" stroke="#ff0000" stroke-width="2.4" stroke-opacity="0.33"/>
<line x1="89.7" x2="89.7" y1="0" y2="661" stroke="#ff0000" stroke-width="1.0" stroke-opacity="0.8"/>
<line x1="239.44" x2="239.44" y1="0" y2="661" stroke="#ff0000" stroke-width="2.4" stroke-opacity="0.33"/>
<line x1="239.44" x2="239.44" y1="0" y2="661" stroke="#ff0000" stroke-width="1.0" stroke-opacity="0.8"/>
<line x1="488.7" x2="488.7" y1="0" y2="661" stroke="#ff0000" stroke-width="2.4" stroke-opacity="0.33"/>
<line x1="488.7" x2="488.7" y1="0" y2="661" stroke="#ff0000" stroke-width="1.0" stroke-opacity="0.8"/>
<line x1="744.7" x2="744.7" y1="0" y2="661" stroke="#ff0000" stroke-width="2.4" stroke-opacity="0.33"/>
<line x1="744.7" x2="744.7" y1="0" y2="661" stroke="#ff0000" stroke-width="1.0" stroke-opacity="0.8"/>
<line x1="905.9" x2="905.9" y1="0" y2="661" stroke="#ff0000" stroke-width="2.4" stroke-opacity="0.33"/>
<line x1="905.9" x2="905.9" y1="0" y2="661" stroke="#ff0000" stroke-width="1.0" stroke-opacity="0.8"/>
<line x1="271.22" x2="271.22" y1="0" y2="661" stroke="#ff0000" stroke-width="1.58"/>
<polyline points="0.0,288.8 5.0,282.0 7.5,283.8 15.0,278.8 19.5,270.0" fill="none" stroke="#ff0000" stroke-width="2.3" stroke-linejoin="round" stroke-linecap="round"/>
<polyline points="19.5,270.0 23.8,262.5 25.8,251.2 28.0,251.2 31.2,265.0 36.2,276.2 40.0,275.0 45.0,266.2 49.5,258.0 52.5,266.2 56.2,264.5 58.0,268.0 62.5,268.8 65.5,272.5 68.8,272.5 75.0,281.2 77.5,287.0 80.5,287.5 84.5,298.0 87.5,298.8 89.5,295.0" fill="none" stroke="#000000" stroke-width="2.3" stroke-linejoin="round" stroke-linecap="round"/>
<polyline points="89.5,295.0 95.0,290.5 97.5,285.5 100.0,292.5 103.8,296.2 107.0,294.5 109.2,297.0 115.0,286.2 118.8,280.0 122.5,267.0" fill="none" stroke="#ff0000" stroke-width="2.3" stroke-linejoin="round" stroke-linecap="round"/>
<polyline points="122.5,267.0 126.2,269.5 128.8,267.0 131.2,273.8 134.5,278.8 137.0,277.5 140.0,270.0 143.0,269.5 144.2,263.0 147.5,267.0 150.0,266.2 153.0,270.0 156.2,265.5 161.2,262.5 165.0,258.8 168.8,260.8 173.8,261.2 178.8,268.8 185.0,278.8 188.8,277.0 191.2,278.8 197.5,278.8 203.8,283.8 208.8,290.0 212.5,295.8 217.5,295.0 225.0,291.2 230.0,294.5 233.8,300.0 237.5,295.8 240.0,294.2" fill="none" stroke="#000000" stroke-width="2.3" stroke-linejoin="round" stroke-linecap="round"/>
<polyline points="240.0,294.2 243.3,303.0 245.8,295.0 247.0,280.0 249.2,271.3 250.8,270.8" fill="none" stroke="#ff0000" stroke-width="2.3" stroke-linejoin="round" stroke-linecap="round"/>
<polyline points="250.8,270.8 253.0,274.2 255.0,284.2 258.3,291.7 261.7,297.0 265.0,293.3 268.3,288.3 270.3,290.0 271.3,295.3 273.7,293.0 276.3,294.7" fill="none" stroke="#000000" stroke-width="2.3" stroke-linejoin="round" stroke-linecap="round"/>
<polyline points="276.3,294.7 279.2,290.0 281.7,282.5 284.2,279.2 286.7,280.8 289.2,285.8 291.7,287.5 295.0,284.7 297.5,284.2 300.0,277.5 301.7,275.0 304.7,274.2 306.7,272.5" fill="none" stroke="#ff0000" stroke-width="2.3" stroke-linejoin="round" stroke-linecap="round"/>
<polyline points="306.7,272.5 311.7,270.0 315.0,273.0 318.3,273.3 321.7,276.7 325.0,276.3 329.2,272.5 336.7,272.5 342.5,273.3 350.0,280.0 353.3,275.8 356.7,268.3 359.2,266.7 361.2,270.0 366.2,265.5 370.8,263.0 374.5,265.8 378.0,266.2 382.5,271.2 387.5,277.5 391.2,273.8 396.2,272.5 400.0,265.0 405.0,270.0 411.2,270.8 413.8,268.2 417.5,268.8 420.0,266.2 423.0,268.2 427.0,266.2 432.0,268.0 435.0,267.5 440.0,268.8 445.0,274.5 451.2,281.2 453.8,285.0 457.5,287.0 463.8,287.0 467.5,285.0 470.0,286.2 473.8,285.0 480.0,281.8 482.5,282.5 488.8,281.2" fill="none" stroke="#000000" stroke-width="2.3" stroke-linejoin="round" stroke-linecap="round"/>
<polyline points="488.8,281.2 495.0,275.0 498.8,273.8 502.0,272.5 506.2,266.2" fill="none" stroke="#ff0000" stroke-width="2.3" stroke-linejoin="round" stroke-linecap="round"/>
<polyline points="506.2,266.2 510.0,264.5 513.8,263.2 517.5,260.8 520.0,259.2 522.0,256.7 524.2,249.2 526.7,245.0 528.7,243.3 530.8,246.3 533.0,241.7 535.0,240.0 536.7,241.7 538.7,235.8 540.8,235.0 542.5,230.8 543.7,229.2 545.3,231.3 547.0,235.8 548.7,237.5 550.8,235.3 553.0,237.5 555.3,239.2 557.5,237.2 559.7,240.0 561.7,244.2 565.0,246.3 568.7,249.7 571.7,248.7 574.7,247.5 577.5,251.7 580.3,255.8 583.0,260.8 585.8,263.0 590.0,264.7 593.3,267.5 595.8,270.8 596.7,278.3 599.2,278.0 605.0,275.3 608.3,278.0 612.0,275.3 615.0,277.5 618.0,279.7 621.7,278.3 624.2,273.0 628.0,272.5 630.3,270.8 634.2,272.5 640.8,273.0 643.3,274.7 647.0,272.5 651.7,273.7 657.5,274.2 659.7,276.3 662.5,275.8 665.8,279.2 669.2,281.7 675.0,282.0 680.0,283.7 686.7,283.0 688.3,278.0 690.8,280.0 693.5,282.6 697.7,279.4 704.4,274.0 709.3,275.0 714.1,276.9 718.9,279.4 721.8,283.6 724.7,287.1 727.0,284.6 730.4,286.5 733.3,289.8 736.2,289.0 739.7,291.0 741.6,289.4 742.4,281.3 744.3,279.4" fill="none" stroke="#000000" stroke-width="2.3" stroke-linejoin="round" stroke-linecap="round"/>
<polyline points="744.3,279.4 746.8,270.2 749.3,261.5 752.0,254.7 754.5,255.1 756.4,256.7 758.4,245.1 760.3,234.5 762.2,226.8" fill="none" stroke="#ff0000" stroke-width="2.3" stroke-linejoin="round" stroke-linecap="round"/>
<polyline points="762.2,226.8 764.2,221.0 766.5,218.2 768.6,223.0 770.9,227.8 773.8,224.9 777.6,219.1 780.1,215.3 783.4,221.6 785.3,213.3 786.9,206.6 790.2,201.2 794.0,197.0 796.3,195.4 798.8,197.9 800.8,190.2 802.3,185.0 804.0,188.9 806.5,187.7 808.5,190.8 811.0,193.5 814.8,189.6 817.1,191.6 819.4,195.0 821.9,205.6 823.9,216.2 825.8,223.0 828.7,226.8 832.5,238.4 836.4,249.0 839.8,257.6 843.1,261.5 847.0,270.2 850.8,275.5 854.7,279.2 858.5,282.1 862.4,285.9 864.3,287.1 867.2,285.2 870.1,284.0 873.0,286.5 877.8,289.0 882.6,292.0 885.5,290.4 886.9,288.9 890.3,290.8 895.4,286.0 898.2,283.2 902.4,279.0 905.2,273.4" fill="none" stroke="#000000" stroke-width="2.3" stroke-linejoin="round" stroke-linecap="round"/>
<polyline points="905.2,273.4 909.4,262.1 912.3,236.8 914.5,221.3 917.3,231.1 920.1,242.4 924.1,238.2 927.2,228.3 929.7,200.1 932.5,163.5 934.8,148.0 936.8,162.1 938.5,167.7 940.4,152.3 942.7,136.8 944.4,130.0" fill="none" stroke="#ff0000" stroke-width="2.3" stroke-linejoin="round" stroke-linecap="round"/>
<polyline points="944.4,130.0 948.5,123.6 951.4,114.9 953.3,104.3 954.7,96.6 956.2,104.3 958.7,100.9 961.0,103.4 963.0,112.0 964.5,119.4 966.8,113.0 969.7,105.3 971.0,103.4 973.0,107.2 974.5,104.3 975.9,94.7 978.0,93.2 979.9,93.8 981.8,87.0 983.7,88.9 986.1,82.2 988.0,81.2 989.9,71.6 991.8,60.4 993.4,65.8 994.5,72.0 996.1,56.2 997.2,49.5 999.5,50.0 1001.8,51.4 1003.4,58.1 1004.3,67.8 1006.3,72.6 1008.2,82.2 1010.7,90.9 1013.0,100.5 1014.4,114.9 1016.5,117.8 1018.4,122.1 1020.7,114.9 1023.6,109.7 1025.9,110.1 1027.5,99.5 1028.8,88.9 1030.3,82.2 1031.9,88.0 1035.2,82.2 1036.7,71.6 1038.0,58.1 1040.0,55.2 1041.9,43.7 1044.8,42.7 1046.7,44.3 1049.6,40.8 1051.9,37.0 1055.4,40.8 1058.3,44.7 1059.6,31.2 1060.8,26.9 1062.7,34.1 1064.6,41.8 1066.5,49.5 1067.7,35.0 1068.5,28.9 1070.4,30.2 1071.7,38.9 1073.1,58.1 1074.6,83.2 1075.8,106.3 1076.4,117.5 1077.4,105.5 1078.3,110.5 1079.1,106.0 1080.0,112.0" fill="none" stroke="#000000" stroke-width="2.3" stroke-linejoin="round" stroke-linecap="round"/>
</svg>
<div style="position:absolute;left:0;top:660.85px;width:1080px;height:1.1px;background:#606060"></div>
<div style="position:absolute;left:-0.35px;top:661px;width:1.3px;height:14px;background:#9a9a9a"></div>
<div class="yl" style="left:1.50px">70</div>
<div style="position:absolute;left:23.61px;top:661px;width:1.3px;height:14px;background:#9a9a9a"></div>
<div class="yl" style="left:25.45px">71</div>
<div style="position:absolute;left:47.56px;top:661px;width:1.3px;height:14px;background:#9a9a9a"></div>
<div class="yl" style="left:49.41px">72</div>
<div style="position:absolute;left:71.51px;top:661px;width:1.3px;height:14px;background:#9a9a9a"></div>
<div class="yl" style="left:73.36px">73</div>
<div style="position:absolute;left:95.47px;top:661px;width:1.3px;height:14px;background:#9a9a9a"></div>
<div class="yl" style="left:97.32px">74</div>
<div style="position:absolute;left:119.42px;top:661px;width:1.3px;height:14px;background:#9a9a9a"></div>
<div class="yl" style="left:121.27px">75</div>
<div style="position:absolute;left:143.38px;top:661px;width:1.3px;height:14px;background:#9a9a9a"></div>
<div class="yl" style="left:145.23px">76</div>
<div style="position:absolute;left:167.34px;top:661px;width:1.3px;height:14px;background:#9a9a9a"></div>
<div class="yl" style="left:169.19px">77</div>
<div style="position:absolute;left:191.29px;top:661px;width:1.3px;height:14px;background:#9a9a9a"></div>
<div class="yl" style="left:193.14px">78</div>
<div style="position:absolute;left:215.24px;top:661px;width:1.3px;height:14px;background:#9a9a9a"></div>
<div class="yl" style="left:217.09px">79</div>
<div style="position:absolute;left:239.20px;top:661px;width:1.3px;height:14px;background:#9a9a9a"></div>
<div class="yl" style="left:241.05px">80</div>
<div style="position:absolute;left:263.16px;top:661px;width:1.3px;height:14px;background:#9a9a9a"></div>
<div class="yl" style="left:265.00px">81</div>
<div style="position:absolute;left:287.11px;top:661px;width:1.3px;height:14px;background:#9a9a9a"></div>
<div class="yl" style="left:288.96px">82</div>
<div style="position:absolute;left:311.06px;top:661px;width:1.3px;height:14px;background:#9a9a9a"></div>
<div class="yl" style="left:312.91px">83</div>
<div style="position:absolute;left:335.02px;top:661px;width:1.3px;height:14px;background:#9a9a9a"></div>
<div class="yl" style="left:336.87px">84</div>
<div style="position:absolute;left:358.98px;top:661px;width:1.3px;height:14px;background:#9a9a9a"></div>
<div class="yl" style="left:360.82px">85</div>
<div style="position:absolute;left:382.93px;top:661px;width:1.3px;height:14px;background:#9a9a9a"></div>
<div class="yl" style="left:384.78px">86</div>
<div style="position:absolute;left:406.88px;top:661px;width:1.3px;height:14px;background:#9a9a9a"></div>
<div class="yl" style="left:408.73px">87</div>
<div style="position:absolute;left:430.84px;top:661px;width:1.3px;height:14px;background:#9a9a9a"></div>
<div class="yl" style="left:432.69px">88</div>
<div style="position:absolute;left:454.80px;top:661px;width:1.3px;height:14px;background:#9a9a9a"></div>
<div class="yl" style="left:456.64px">89</div>
<div style="position:absolute;left:478.75px;top:661px;width:1.3px;height:14px;background:#9a9a9a"></div>
<div class="yl" style="left:480.60px">90</div>
<div style="position:absolute;left:502.70px;top:661px;width:1.3px;height:14px;background:#9a9a9a"></div>
<div class="yl" style="left:504.55px">91</div>
<div style="position:absolute;left:526.66px;top:661px;width:1.3px;height:14px;background:#9a9a9a"></div>
<div class="yl" style="left:528.51px">92</div>
<div style="position:absolute;left:550.61px;top:661px;width:1.3px;height:14px;background:#9a9a9a"></div>
<div class="yl" style="left:552.46px">93</div>
<div style="position:absolute;left:574.57px;top:661px;width:1.3px;height:14px;background:#9a9a9a"></div>
<div class="yl" style="left:576.42px">94</div>
<div style="position:absolute;left:598.52px;top:661px;width:1.3px;height:14px;background:#9a9a9a"></div>
<div class="yl" style="left:600.38px">95</div>
<div style="position:absolute;left:622.48px;top:661px;width:1.3px;height:14px;background:#9a9a9a"></div>
<div class="yl" style="left:624.33px">96</div>
<div style="position:absolute;left:646.43px;top:661px;width:1.3px;height:14px;background:#9a9a9a"></div>
<div class="yl" style="left:648.28px">97</div>
<div style="position:absolute;left:670.39px;top:661px;width:1.3px;height:14px;background:#9a9a9a"></div>
<div class="yl" style="left:672.24px">98</div>
<div style="position:absolute;left:694.34px;top:661px;width:1.3px;height:14px;background:#9a9a9a"></div>
<div class="yl" style="left:696.19px">99</div>
<div style="position:absolute;left:718.30px;top:661px;width:1.3px;height:14px;background:#9a9a9a"></div>
<div class="yl" style="left:720.15px">00</div>
<div style="position:absolute;left:742.25px;top:661px;width:1.3px;height:14px;background:#9a9a9a"></div>
<div class="yl" style="left:744.10px">01</div>
<div style="position:absolute;left:766.21px;top:661px;width:1.3px;height:14px;background:#9a9a9a"></div>
<div class="yl" style="left:768.06px">02</div>
<div style="position:absolute;left:790.16px;top:661px;width:1.3px;height:14px;background:#9a9a9a"></div>
<div class="yl" style="left:792.01px">03</div>
<div style="position:absolute;left:814.12px;top:661px;width:1.3px;height:14px;background:#9a9a9a"></div>
<div class="yl" style="left:815.97px">04</div>
<div style="position:absolute;left:838.07px;top:661px;width:1.3px;height:14px;background:#9a9a9a"></div>
<div class="yl" style="left:839.92px">05</div>
<div style="position:absolute;left:862.03px;top:661px;width:1.3px;height:14px;background:#9a9a9a"></div>
<div class="yl" style="left:863.88px">06</div>
<div style="position:absolute;left:885.98px;top:661px;width:1.3px;height:14px;background:#9a9a9a"></div>
<div class="yl" style="left:887.83px">07</div>
<div style="position:absolute;left:909.94px;top:661px;width:1.3px;height:14px;background:#9a9a9a"></div>
<div class="yl" style="left:911.79px">08</div>
<div style="position:absolute;left:933.89px;top:661px;width:1.3px;height:14px;background:#9a9a9a"></div>
<div class="yl" style="left:936.64px">010</div>
<div style="position:absolute;left:957.85px;top:661px;width:1.3px;height:14px;background:#9a9a9a"></div>
<div class="yl" style="left:959.70px">10</div>
<div style="position:absolute;left:981.80px;top:661px;width:1.3px;height:14px;background:#9a9a9a"></div>
<div class="yl" style="left:983.65px">11</div>
<div style="position:absolute;left:1005.76px;top:661px;width:1.3px;height:14px;background:#9a9a9a"></div>
<div class="yl" style="left:1007.61px">12</div>
<div style="position:absolute;left:1029.71px;top:661px;width:1.3px;height:14px;background:#9a9a9a"></div>
<div class="yl" style="left:1031.56px">13</div>
<div style="position:absolute;left:1053.67px;top:661px;width:1.3px;height:14px;background:#9a9a9a"></div>
<div class="yl" style="left:1055.52px">14</div>
<div style="position:absolute;left:1077.62px;top:661px;width:1.3px;height:14px;background:#9a9a9a"></div>
<div class="yl" style="left:1079.47px">15</div>
<div style="position:absolute;left:1101.58px;top:661px;width:1.3px;height:14px;background:#9a9a9a"></div>
<div class="t" id="t1" style="left:-3.6px;top:33.1px;font-size:18.25px;transform:scaleY(1.04);transform-origin:0 0;">rve</div>
<div class="t" id="t2" style="left:312.6px;top:138.4px;font-size:18.27px;transform:scaleY(1.04);transform-origin:0 0;">Red highlights indicate recessions and vertical lines their start.</div>
<div class="t" id="t3" style="left:820.9px;top:561.1px;font-size:21px;letter-spacing:-0.03px;">Confirmation of a weak economy</div>
</body></html>
